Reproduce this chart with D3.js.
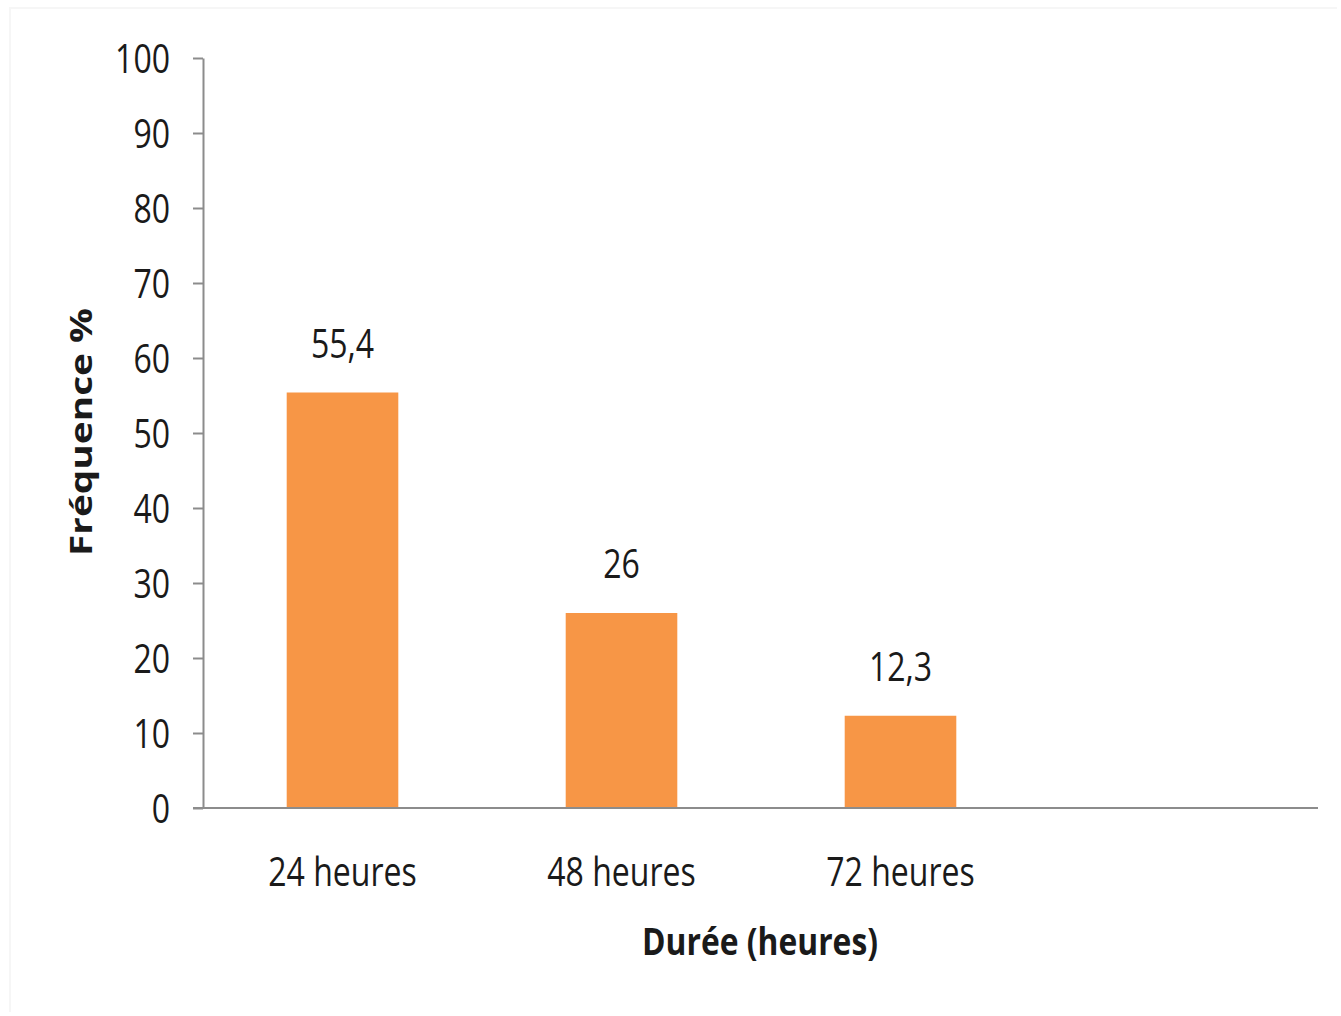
<!DOCTYPE html>
<html>
<head>
<meta charset="utf-8">
<script src="https://cdn.jsdelivr.net/npm/d3@7"></script>
<style>
  body { margin: 0; background: #fff; }
  text { font-family: "Open Sans", "Noto Sans", sans-serif; fill: #1a1a1a; }
</style>
</head>
<body>
<svg id="chart"></svg>
<script>
let w = 1341
let h = 1016

// data
let categories = ["24 heures", "48 heures", "72 heures"]
let values = [55.4, 26, 12.3]
let valueLabels = ["55,4", "26", "12,3"]
let yTicks = [0, 10, 20, 30, 40, 50, 60, 70, 80, 90, 100]

let plotLeft = 203, plotTop = 58, plotBottom = 808, axisEnd = 1318
let step = 279
let sx = 0.8   // the reference text is squeezed sideways

let svg = d3.select('#chart').attr('width', w).attr('height', h)

// very faint outer frame (top and left only show in the reference)
svg.append('path')
  .attr('d', 'M10,' + (h - 4) + 'V8H' + (w - 4))
  .attr('fill', 'none').attr('stroke', '#f6f6f6').attr('stroke-width', 2)

let x = d3.scaleBand()
  .domain(categories)
  .range([plotLeft, plotLeft + step * categories.length])
  .paddingInner(0.6)
  .paddingOuter(0.3)

let y = d3.scaleLinear().domain([0, 100]).range([plotBottom, plotTop])

// y axis
let yAxis = svg.append('g')
  .attr('transform', 'translate(' + plotLeft + ',0)')
  .call(d3.axisLeft(y).tickValues(yTicks).tickSize(10).tickPadding(0).tickSizeOuter(0))
yAxis.select('.domain').attr('stroke', '#8c8c8c').attr('stroke-width', 2)
yAxis.selectAll('.tick line').attr('stroke', '#8c8c8c').attr('stroke-width', 2)
yAxis.selectAll('.tick text')
  .attr('font-size', 40)
  .attr('fill', '#1a1a1a')
  .attr('dy', '0.36em')
  .attr('x', -33 / sx)
  .attr('transform', 'scale(' + sx + ',1)')

// bars
svg.selectAll('.bar')
  .data(values)
  .join('rect')
  .attr('class', 'bar')
  .attr('x', (d, i) => x(categories[i]))
  .attr('y', d => y(d))
  .attr('width', x.bandwidth())
  .attr('height', d => y(0) - y(d))
  .attr('fill', '#F79646')

// value labels
svg.selectAll('.val')
  .data(values)
  .join('text')
  .attr('class', 'val')
  .attr('text-anchor', 'middle')
  .attr('font-size', 40)
  .attr('transform', (d, i) => 'translate(' + (x(categories[i]) + x.bandwidth() / 2) + ',' + (y(d) - 35) + ') scale(' + sx + ',1)')
  .text((d, i) => valueLabels[i])

// x axis line
svg.append('line')
  .attr('x1', plotLeft - 10).attr('x2', axisEnd)
  .attr('y1', plotBottom).attr('y2', plotBottom)
  .attr('stroke', '#8c8c8c').attr('stroke-width', 2)

// x tick labels
svg.selectAll('.xlab')
  .data(categories)
  .join('text')
  .attr('class', 'xlab')
  .attr('text-anchor', 'middle')
  .attr('font-size', 40)
  .attr('transform', d => 'translate(' + (x(d) + x.bandwidth() / 2) + ',886) scale(' + sx + ',1)')
  .text(d => d)

// axis titles
svg.append('text')
  .attr('text-anchor', 'middle')
  .attr('font-size', 37)
  .attr('font-weight', 'bold')
  .attr('transform', 'translate(760,955) scale(0.86,1)')
  .text('Durée (heures)')

svg.append('text')
  .attr('text-anchor', 'middle')
  .attr('font-size', 36)
  .attr('font-weight', 'bold')
  .attr('transform', 'translate(92,432) rotate(-90) scale(1,0.85)')
  .attr('textLength', 248)
  .attr('lengthAdjust', 'spacingAndGlyphs')
  .text('Fréquence %')
</script>
</body>
</html>
